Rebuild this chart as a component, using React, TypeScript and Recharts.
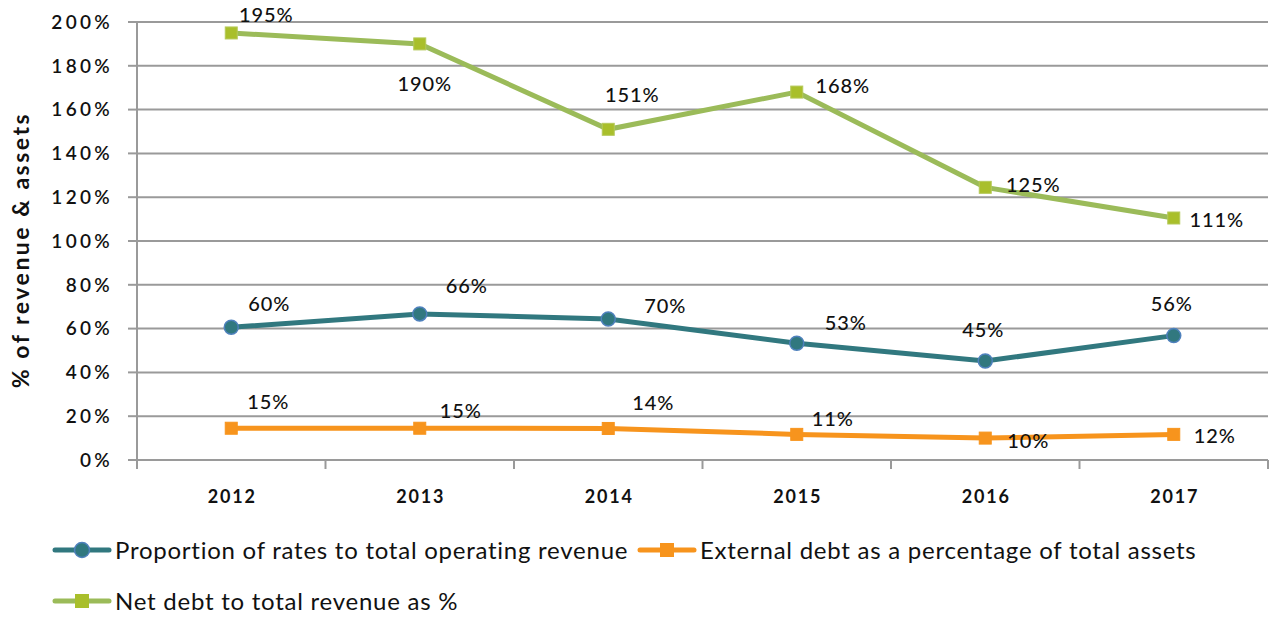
import { LineChart, Line, XAxis, YAxis, CartesianGrid, LabelList } from 'recharts';

const years = ['2012', '2013', '2014', '2015', '2016', '2017'];
const ratesShare = [60.6, 66.7, 64.4, 53.3, 45.2, 56.8];
const externalDebt = [14.5, 14.5, 14.4, 11.7, 10, 11.7];
const netDebt = [195, 190, 151, 168, 124.5, 110.5];

const ratesLabels = ['60%', '66%', '70%', '53%', '45%', '56%'];
const debtLabels = ['15%', '15%', '14%', '11%', '10%', '12%'];
const netLabels = ['195%', '190%', '151%', '168%', '125%', '111%'];

const yTicks = [0, 20, 40, 60, 80, 100, 120, 140, 160, 180, 200];

const data = years.map((year, i) => ({
  year,
  rates: ratesShare[i],
  debt: externalDebt[i],
  net: netDebt[i],
}));

const BLUE = '#31787f';
const ORANGE = '#f7941d';
const GREEN = '#9bbb59';
const GRID = '#9a9a9a';
const FONT = 'Lato, "DejaVu Sans", sans-serif';
const HALF_BAND = 94.25;

// label offsets relative to each point (dx, dy of text centre)
const ratesOffsets = [[38, -23], [47, -28], [57, -13], [49, -20], [-2, -31], [-2, -32]];
const debtOffsets = [[37, -26], [41, -17], [45, -25], [36, -15], [43, 3], [41, 2]];
const netOffsets = [[35, -18], [5, 40], [24, -34], [46, -6], [48, -2], [43, 2]];

const makeLabel = (texts: string[], offsets: number[][]) => (props: any) => {
  const { x, y, index } = props;
  const [dx, dy] = offsets[index];
  return (
    <text
      x={x + dx}
      y={y + dy}
      dy="0.35em"
      textAnchor="middle"
      fontFamily={FONT}
      fontSize={20}
      fontWeight={500}
      letterSpacing={0.9}
      fill="#111"
    >
      {texts[index]}
    </text>
  );
};

const circleDot = (props: any) => {
  const { cx, cy, index } = props;
  return <circle key={'c' + index} cx={cx} cy={cy} r={7} fill={BLUE} stroke="#4f81bd" strokeWidth={1.5} />;
};

const squareDot = (fill: string, border: string) => (props: any) => {
  const { cx, cy, index } = props;
  return <rect key={'s' + index} x={cx - 6} y={cy - 6} width={12} height={12} fill={fill} stroke={border} strokeWidth={1} />;
};

const XTick = (props: any) => {
  const { x, y, payload, index } = props;
  return (
    <g>
      <line x1={x - HALF_BAND} y1={y} x2={x - HALF_BAND} y2={y + 9} stroke={GRID} strokeWidth={2} />
      {index === years.length - 1 && (
        <line x1={x + HALF_BAND} y1={y} x2={x + HALF_BAND} y2={y + 9} stroke={GRID} strokeWidth={2} />
      )}
      <text x={x + 1} y={y + 43} textAnchor="middle" fontFamily={FONT} fontSize={18} fontWeight={700} letterSpacing={1.8} fill="#111">
        {payload.value}
      </text>
    </g>
  );
};

const YLabel = () => (
  <text
    transform="translate(29,250) rotate(-90)"
    textAnchor="middle"
    fontFamily={FONT}
    fontSize={23}
    fontWeight={700}
    letterSpacing={2.5}
    fill="#111"
  >
    % of revenue &amp; assets
  </text>
);

const LegendIcon = ({ color, marker }: { color: string; marker: 'circle' | 'square' }) => (
  <svg width={60} height={18} style={{ marginRight: 3 }}>
    <line x1={3} y1={9} x2={57} y2={9} stroke={color} strokeWidth={5} strokeLinecap="round" />
    {marker === 'circle' ? (
      <circle cx={30} cy={9} r={7.5} fill={BLUE} stroke="#4f81bd" strokeWidth={1.5} />
    ) : (
      <rect x={23} y={2} width={14} height={14} fill={color === GREEN ? '#a9bf2b' : ORANGE} />
    )}
  </svg>
);

const legendText: React.CSSProperties = { fontFamily: FONT, fontSize: 24, letterSpacing: 0.75, color: '#111' };

export default function App() {
  return (
    <div style={{ position: 'absolute', left: 0, top: 0, width: 1272, height: 617, background: '#fff' }}>
      <LineChart width={1272} height={520} data={data} margin={{ top: 22, right: 4, bottom: 0, left: 0 }}>
        <CartesianGrid vertical={false} stroke={GRID} strokeWidth={2} />
        <XAxis
          dataKey="year"
          scale="band"
          axisLine={{ stroke: GRID, strokeWidth: 2 }}
          tickLine={false}
          tickSize={0}
          tickMargin={0}
          tick={<XTick />}
          height={60}
          interval={0}
        />
        <YAxis
          domain={[0, 200]}
          ticks={yTicks}
          width={137}
          axisLine={{ stroke: GRID, strokeWidth: 2 }}
          tickLine={{ stroke: GRID, strokeWidth: 2 }}
          tickSize={9}
          tickMargin={15}
          tickFormatter={(v: number) => `${v}%`}
          tick={{ fontFamily: FONT, fontSize: 19, fontWeight: 600, letterSpacing: 3.3, fill: '#111' }}
          label={<YLabel />}
        />
        <Line
          dataKey="rates"
          stroke={BLUE}
          strokeWidth={5}
          dot={circleDot}
          isAnimationActive={false}
        >
          <LabelList dataKey="rates" content={makeLabel(ratesLabels, ratesOffsets)} />
        </Line>
        <Line
          dataKey="debt"
          stroke={ORANGE}
          strokeWidth={5}
          dot={squareDot(ORANGE, ORANGE)}
          isAnimationActive={false}
        >
          <LabelList dataKey="debt" content={makeLabel(debtLabels, debtOffsets)} />
        </Line>
        <Line
          dataKey="net"
          stroke={GREEN}
          strokeWidth={5}
          dot={squareDot('#a9bf2b', '#b5c95a')}
          isAnimationActive={false}
        >
          <LabelList dataKey="net" content={makeLabel(netLabels, netOffsets)} />
        </Line>
      </LineChart>
      <div style={{ position: 'absolute', left: 52, top: 535, display: 'flex', alignItems: 'center' }}>
        <LegendIcon color={BLUE} marker="circle" />
        <span style={legendText}>Proportion of rates to total operating revenue</span>
      </div>
      <div style={{ position: 'absolute', left: 637, top: 535, display: 'flex', alignItems: 'center' }}>
        <LegendIcon color={ORANGE} marker="square" />
        <span style={legendText}>External debt as a percentage of total assets</span>
      </div>
      <div style={{ position: 'absolute', left: 52, top: 586, display: 'flex', alignItems: 'center' }}>
        <LegendIcon color={GREEN} marker="square" />
        <span style={legendText}>Net debt to total revenue as %</span>
      </div>
    </div>
  );
}
